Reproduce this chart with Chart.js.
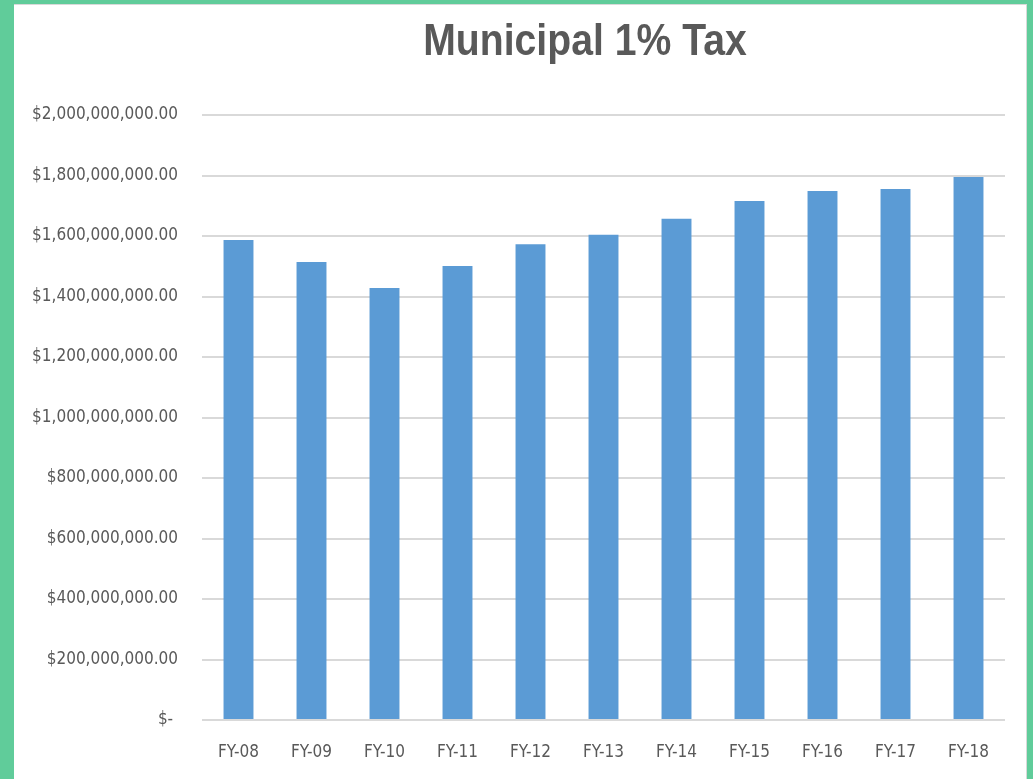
<!DOCTYPE html>
<html>
<head>
<meta charset="utf-8">
<script src="https://cdn.jsdelivr.net/npm/chart.js@4.4.0/dist/chart.umd.min.js"></script>
<style>
html,body{margin:0;padding:0;width:1033px;height:779px;overflow:hidden;background:#60cc9a;}
#panel{position:absolute;left:14px;top:4px;width:1013px;height:780px;background:#fff;border-top:1px solid #d9d9d9;border-right:1px solid #d9d9d9;box-sizing:border-box;}
#wrap{position:absolute;left:0;top:0;width:1033px;height:779px;}
</style>
</head>
<body>
<div id="panel"></div>
<div id="wrap"><canvas id="c" width="1033" height="779"></canvas></div>
<script>
const categories = ['FY-08','FY-09','FY-10','FY-11','FY-12','FY-13','FY-14','FY-15','FY-16','FY-17','FY-18'];
const taxValues = [1587000000,1514000000,1428000000,1501000000,1573000000,1604000000,1657000000,1716000000,1749000000,1755000000,1795000000];
const chartTitle = 'Municipal 1% Tax';
const yTickStep = 200000000;
const yMax = 2000000000;

const FONT = '"DejaVu Sans Condensed", "Liberation Sans", sans-serif';
const TITLE_FONT = '"Liberation Sans", Arial, sans-serif';
const GREY = '#595959';

function fmtMoney(v){
  if (v === 0) return '$-\u00a0';
  return '$' + v.toLocaleString('en-US',{minimumFractionDigits:2,maximumFractionDigits:2});
}

const titlePlugin = {
  id: 'customTitle',
  afterDraw(chart){
    const ctx = chart.ctx;
    ctx.save();
    ctx.font = 'bold 44px ' + TITLE_FONT;
    ctx.fillStyle = GREY;
    ctx.textAlign = 'center';
    ctx.textBaseline = 'alphabetic';
    ctx.translate(585, 55);
    ctx.scale(0.89, 1);
    ctx.fillText(chartTitle, 0, 0);
    ctx.restore();
  }
};

new Chart(document.getElementById('c'), {
  type: 'bar',
  data: {
    labels: categories,
    datasets: [{
      data: taxValues,
      backgroundColor: '#5b9bd5',
      borderWidth: 0,
      barPercentage: 0.41,
      categoryPercentage: 1.0
    }]
  },
  options: {
    responsive: false,
    animation: false,
    devicePixelRatio: 1,
    layout: { padding: { left: 0, right: 28, top: 115, bottom: 0 } },
    plugins: { legend: { display: false }, title: { display: false }, tooltip: { enabled: false } },
    scales: {
      x: {
        grid: { display: false, drawTicks: false },
        border: { display: false },
        ticks: { color: GREY, font: { family: FONT, size: 17 }, padding: 22, maxRotation: 0 },
        afterFit(scale){ scale.height = 59; }
      },
      y: {
        min: 0,
        max: yMax,
        grid: { color: '#d9d9d9', lineWidth: 2, drawTicks: false },
        border: { display: false },
        ticks: { stepSize: yTickStep, color: GREY, font: { family: FONT, size: 17 }, padding: 24, callback: v => fmtMoney(v) },
        afterFit(scale){ scale.width = 202; }
      }
    }
  },
  plugins: [titlePlugin]
});
</script>
</body>
</html>
